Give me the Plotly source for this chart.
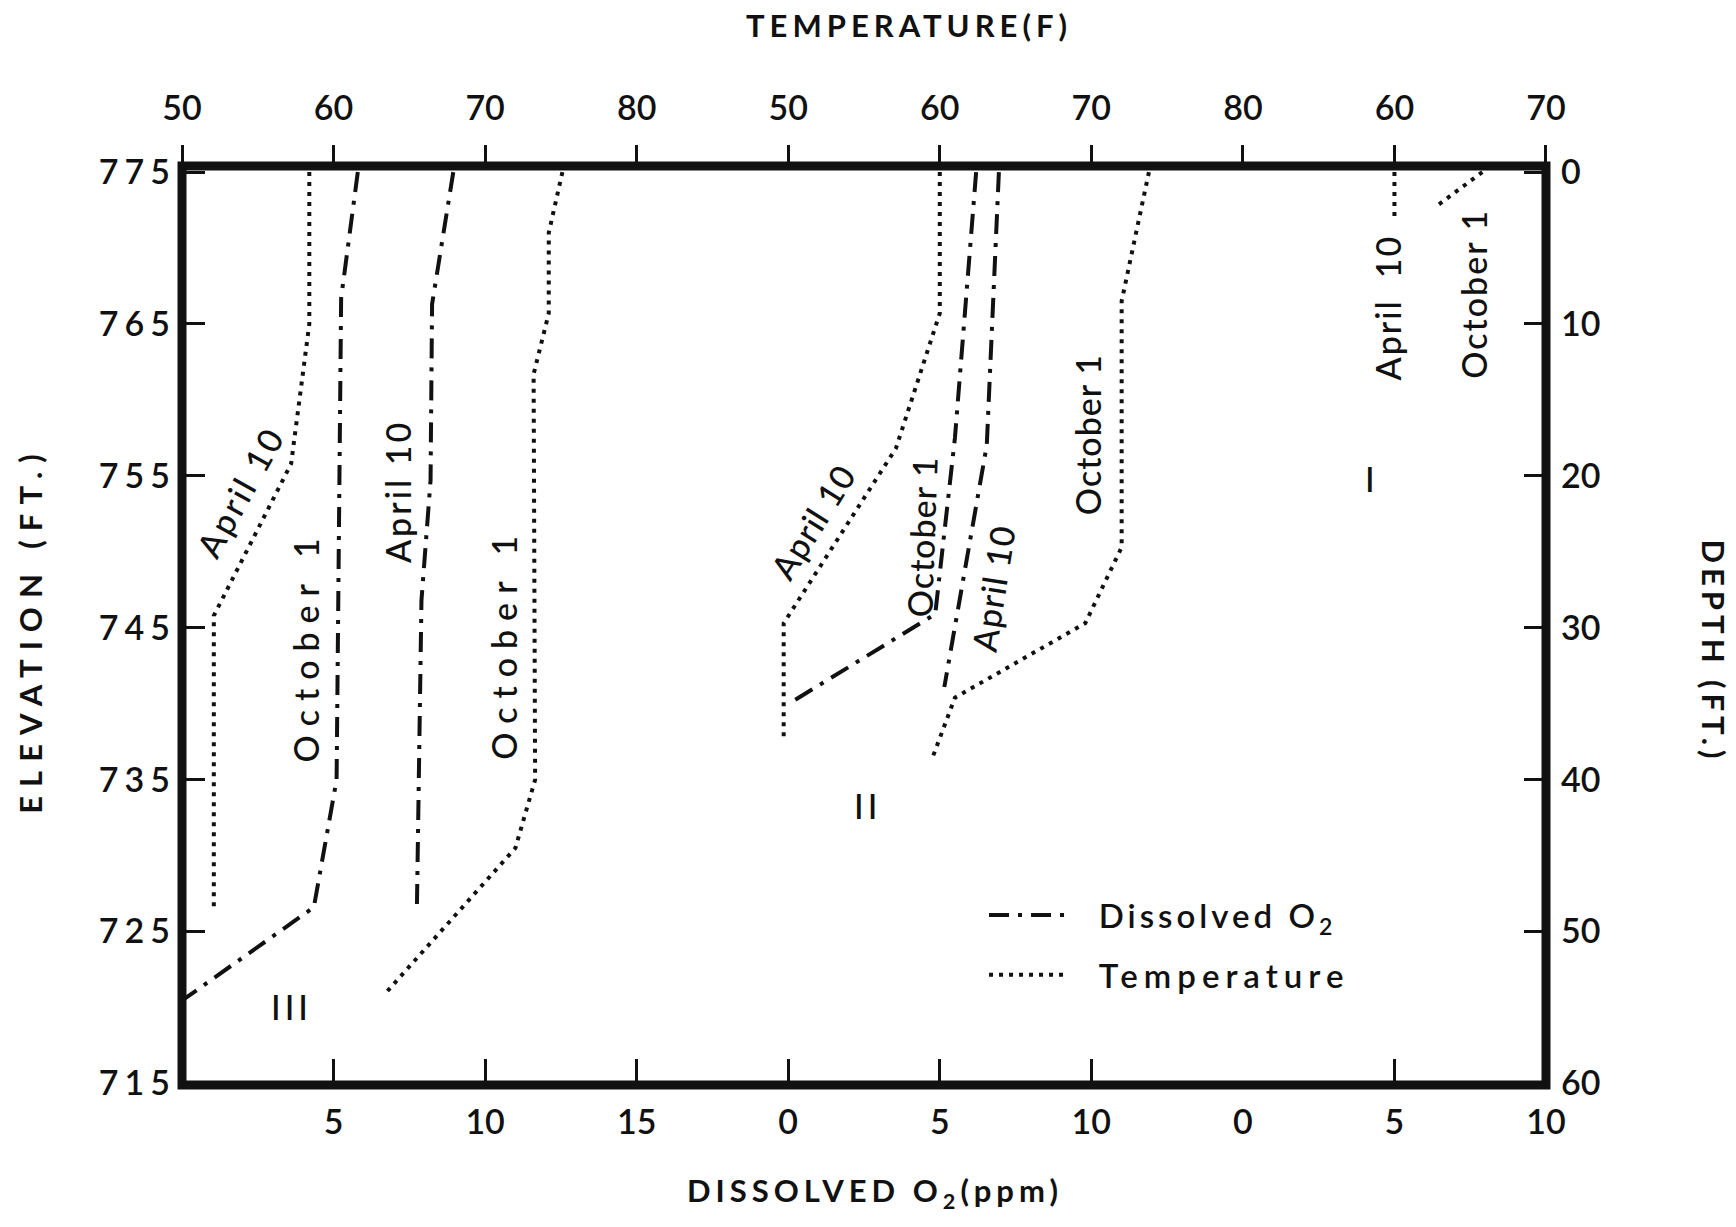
import plotly.graph_objects as go

# ---------------- data ----------------
# Station III (left panel)
iii_temp_apr_t = [58.4, 58.4, 57.2, 52.1, 52.1]
iii_temp_apr_e = [775, 765, 755.8, 745.8, 726.6]
iii_temp_oct_t = [75.1, 74.2, 74.2, 73.2, 73.3, 72.0, 63.3]
iii_temp_oct_e = [775, 771, 765.7, 761.7, 735, 730.5, 720.8]
iii_do_apr = [8.95, 8.25, 8.2, 7.9, 7.75]
iii_do_apr_e = [775, 766.3, 754.7, 746.8, 726.6]
iii_do_oct = [5.8, 5.25, 5.1, 4.35, 0.1]
iii_do_oct_e = [775, 766.7, 735, 726.6, 720.6]

# Station II (middle panel)
ii_temp_apr_t = [60.0, 60.0, 57.1, 49.7, 49.7]
ii_temp_apr_e = [775, 765.7, 756.8, 745.3, 737.5]
ii_temp_oct_t = [73.8, 72.0, 72.0, 69.6, 61.0, 59.5]
ii_temp_oct_e = [775, 766.5, 750.3, 745.3, 740.4, 736.4]
ii_do_apr = [6.95, 6.55, 5.15]
ii_do_apr_e = [775, 757.0, 741.1]
ii_do_oct = [6.2, 5.5, 4.85, 0.1]
ii_do_oct_e = [775, 757.5, 745.9, 740.1]

# Station I (right panel) -- recorded as depth below the surface (ft)
i_temp_apr_t = [60.0, 60.0]
i_temp_apr_d = [0, 3.0]
i_temp_oct_t = [65.8, 62.7]
i_temp_oct_d = [0, 2.3]

# tick labels
elev_ticks = [715, 725, 735, 745, 755, 765, 775]
depth_ticks = [0, 10, 20, 30, 40, 50, 60]
do_ticks_iii = [5, 10, 15]
do_ticks_ii = [0, 5, 10]
do_ticks_i = [0, 5, 10]
t_ticks_iii = [50, 60, 70, 80]
t_ticks_ii = [50, 60, 70, 80]
t_ticks_i = [60, 70]

# ---------------- styling ----------------
FONT = "Lato"
BLACK = "#111111"
DOT = "4px,6px"
DASHDOT = "20px,9px,4px,9px"
LW = 4
SURFACE = 775  # elevation of the water surface (depth 0)
d1, d2 = 20 / 45, 35 / 45
pad = 0.5  # DO units of overlap so station II can reach slightly left of 0
NB = "\u00a0"


def sp(text, s):
    return f'<span style="letter-spacing:{s}px">{text}</span>'


fig = go.Figure()


def add_line(x, y, xa, kind, show=False, ya="y"):
    fig.add_trace(go.Scatter(
        x=x, y=y, xaxis=xa, yaxis=ya, mode="lines",
        line=dict(color=BLACK, width=LW, dash=DOT if kind == "t" else DASHDOT),
        name=(NB * 3 + sp("Dissolved O<sub>2</sub>", 4)) if kind == "o"
        else (NB * 3 + sp("Temperature", 6)),
        legendgroup=kind, showlegend=show, hoverinfo="skip"))


add_line(iii_do_oct, iii_do_oct_e, "x", "o", True)
add_line(iii_temp_apr_t, iii_temp_apr_e, "x4", "t", True)
add_line(iii_do_apr, iii_do_apr_e, "x", "o")
add_line(iii_temp_oct_t, iii_temp_oct_e, "x4", "t")
add_line(ii_temp_apr_t, ii_temp_apr_e, "x5", "t")
add_line(ii_temp_oct_t, ii_temp_oct_e, "x5", "t")
add_line(ii_do_apr, ii_do_apr_e, "x2", "o")
add_line(ii_do_oct, ii_do_oct_e, "x2", "o")
add_line(i_temp_apr_t, i_temp_apr_d, "x6", "t", ya="y2")
add_line(i_temp_oct_t, i_temp_oct_d, "x6", "t", ya="y2")

tickfont = dict(family=FONT, size=34, color=BLACK, weight=600)
common = dict(showgrid=False, zeroline=False, showline=False, tickcolor=BLACK,
              tickwidth=3, fixedrange=True)


def bottom_axis(domain, rng, vals):
    return dict(domain=domain, range=rng, tickmode="array", tickvals=vals,
                ticktext=[str(v) for v in vals], ticks="inside", ticklen=26,
                side="bottom", anchor="y", tickfont=tickfont,
                ticklabelstandoff=14, **common)


def top_axis(over, domain, rng, vals):
    return dict(overlaying=over, domain=domain, range=rng, tickmode="array",
                tickvals=vals, ticktext=[str(v) for v in vals], ticks="outside",
                ticklen=20, side="top", anchor="y", tickfont=tickfont,
                ticklabelstandoff=11, **common)


dom2 = [(20 - pad) / 45, d2]
fig.update_layout(
    width=1736, height=1227,
    margin=dict(l=182, r=190, t=166, b=142),
    paper_bgcolor="white", plot_bgcolor="white",
    font=dict(family=FONT, color=BLACK),
    xaxis=bottom_axis([0, d1], [0, 20], do_ticks_iii),
    xaxis2=bottom_axis(dom2, [-pad, 15], do_ticks_ii),
    xaxis3=bottom_axis([d2, 1], [0, 10], do_ticks_i),
    xaxis4=top_axis("x", [0, d1], [50, 90], t_ticks_iii),
    xaxis5=top_axis("x2", dom2, [50 - 2 * pad, 80], t_ticks_ii),
    xaxis6=top_axis("x3", [d2, 1], [50, 70], t_ticks_i),
    yaxis=dict(domain=[0, 1], range=[714.9, 775.4], tickmode="array",
               tickvals=elev_ticks, ticktext=[sp(str(v), 6) for v in elev_ticks],
               ticks="inside", ticklen=22, anchor="free", position=0, side="left",
               tickfont=tickfont, ticklabelstandoff=6, **common),
    yaxis2=dict(overlaying="y", range=[SURFACE - 714.9, SURFACE - 775.4],
                tickmode="array", tickvals=depth_ticks,
                ticktext=[str(v) for v in depth_ticks],
                ticks="inside", ticklen=22, anchor="free", position=1, side="right",
                tickfont=tickfont, ticklabelstandoff=14, **common),
    showlegend=True,
    legend=dict(x=0.588, y=0.2155, xanchor="left", yanchor="top",
                font=dict(family=FONT, size=33, color=BLACK, weight=600),
                itemwidth=80, tracegroupgap=14, bgcolor="rgba(0,0,0,0)",
                traceorder="grouped"),
)

# frame
fig.add_shape(type="rect", xref="paper", yref="paper", x0=0, x1=1, y0=0, y1=1,
              line=dict(color=BLACK, width=9), layer="above")

# axis titles
titles = [
    (sp("TEMPERATURE(F)", 5), 0.533, 1.1534, 0),
    (sp("DISSOLVED O<sub>2</sub>(ppm)", 5), 0.508, -0.1175, 0),
    (sp("ELEVATION (FT.)", 9), -0.111, 0.496, -90),
    (sp("DEPTH (FT.)", 5), 1.123, 0.472, 90),
]
for text, x, y, ang in titles:
    fig.add_annotation(text=text, x=x, y=y, xref="paper", yref="paper",
                       xanchor="center", yanchor="middle",
                       showarrow=False, textangle=ang,
                       font=dict(family=FONT, size=31, color=BLACK, weight=700))

# curve labels
labels = [
    ("April 10", "x", 1.9, 754.0, -61, 3),
    ("October 1", "x", 4.07, 743.8, -90, 9),
    ("April 10", "x", 7.09, 754.0, -90, 3),
    ("October 1", "x", 10.62, 744.0, -90, 9),
    ("III", "x", 3.6, 720.1, 0, 4),
    ("April 10", "x2", 0.8, 752.0, -58, 1),
    ("October 1", "x2", 4.4, 751.0, -88, 1),
    ("April 10", "x2", 6.74, 747.6, -81, 1),
    ("October 1", "x2", 9.9, 757.7, -90, 1),
    ("II", "x2", 2.63, 733.3, 0, 4),
    ("April  10", "x3", 4.76, 766.1, -90, 2),
    ("October 1", "x3", 7.6, 767.0, -90, 2),
    ("I", "x3", 4.18, 754.8, 0, 0),
]
for text, xa, x, y, ang, s in labels:
    fig.add_annotation(text=sp(text, s), x=x, y=y, xref=xa, yref="y",
                       xanchor="center", yanchor="middle",
                       showarrow=False, textangle=ang,
                       font=dict(family=FONT, size=34, color=BLACK, weight=500))

fig.write_html("out.html")
